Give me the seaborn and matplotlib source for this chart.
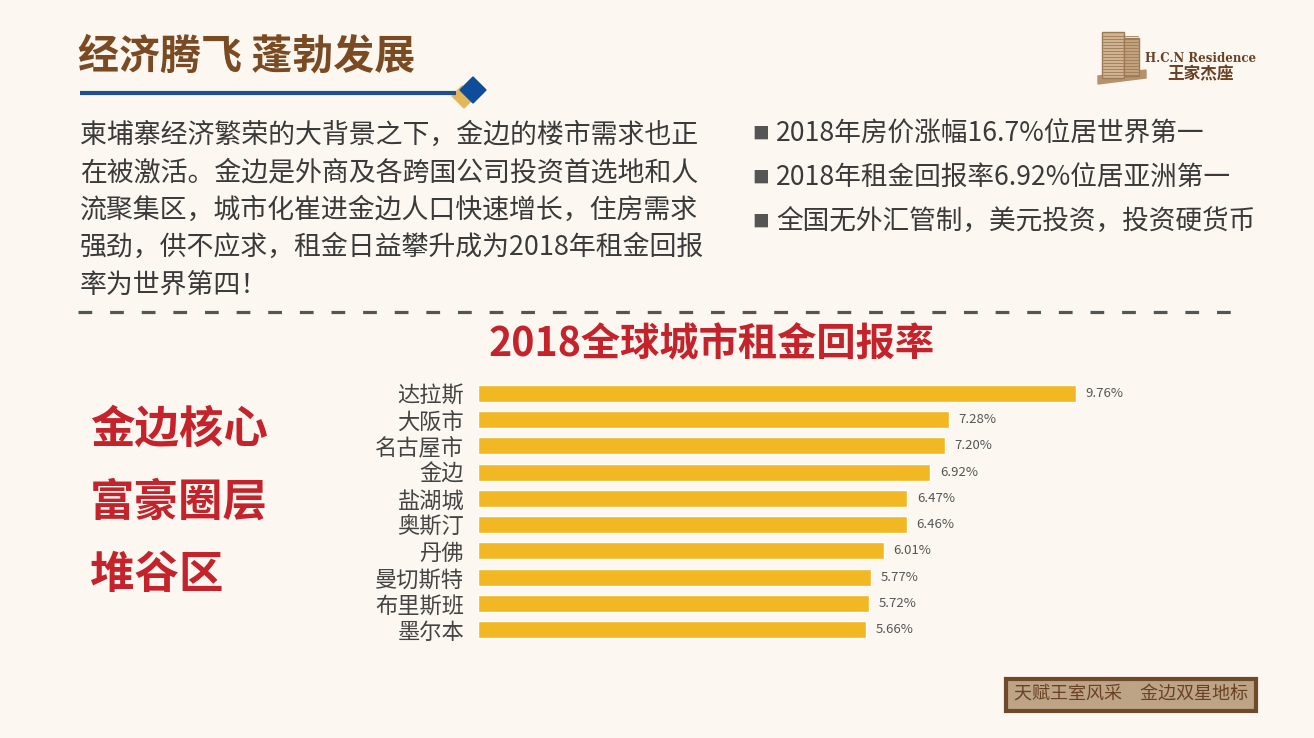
import matplotlib
matplotlib.use("Agg")
import matplotlib.pyplot as plt
from matplotlib.patches import Rectangle, Polygon
import seaborn as sns
import pandas as pd

# chart data
cities = ["达拉斯", "大阪市", "名古屋市", "金边", "盐湖城", "奥斯汀", "丹佛", "曼切斯特", "布里斯班", "墨尔本"]
rates = [9.76, 7.28, 7.20, 6.92, 6.47, 6.46, 6.01, 5.77, 5.72, 5.66]
rate_labels = ["9.76%", "7.28%", "7.20%", "6.92%", "6.47%", "6.46%", "6.01%", "5.77%", "5.72%", "5.66%"]

page_title = "经济腾飞 蓬勃发展"
chart_title = "2018全球城市租金回报率"
paragraph = ["柬埔寨经济繁荣的大背景之下，金边的楼市需求也正",
             "在被激活。金边是外商及各跨国公司投资首选地和人",
             "流聚集区，城市化崔进金边人口快速增长，住房需求",
             "强劲，供不应求，租金日益攀升成为2018年租金回报",
             "率为世界第四！"]
bullets = ["2018年房价涨幅16.7%位居世界第一",
           "2018年租金回报率6.92%位居亚洲第一",
           "全国无外汇管制，美元投资，投资硬货币"]
side_text = ["金边核心", "富豪圈层", "堆谷区"]
footer = "天赋王室风采　金边双星地标"

BG = "#FCF7F1"
RED = "#C4232B"
BROWN = "#7A4A22"
BAR = "#F2B824"

sns.set_theme(style="white")
plt.rcParams["font.family"] = ["Noto Sans CJK SC", "DejaVu Sans"]

W, H = 1314, 738
fig = plt.figure(figsize=(W / 100, H / 100), dpi=100, facecolor=BG)

# page overlay in pixel coordinates
pg = fig.add_axes([0, 0, 1, 1])
pg.set_xlim(0, W)
pg.set_ylim(H, 0)
pg.axis("off")
pg.set_facecolor(BG)

pg.text(78, 57, page_title, fontsize=29.5, fontweight="bold", color=BROWN, va="center", ha="left")
pg.plot([80, 456], [93, 93], color="#1F4E8F", lw=3, solid_capstyle="butt")
pg.add_patch(Polygon([[452, 96], [462, 86], [474, 98], [464, 108]], closed=True, color="#E2B65A"))
pg.add_patch(Polygon([[460, 90], [473, 77], [486, 90], [473, 103]], closed=True, color="#0F4C9A"))

for i, line in enumerate(paragraph):
    pg.text(80, 135 + i * 37.5, line, fontsize=19.4, color="#3A3A3A", va="center", ha="left")

for i, line in enumerate(bullets):
    pg.text(752, 134 + i * 44, "■", fontsize=12, color="#555555", va="center", ha="left")
    pg.text(776, 134 + i * 44, line, fontsize=19.2, color="#3A3A3A", va="center", ha="left")

pg.plot([78, 1240], [312, 312], color="#555555", lw=2.3, dashes=(4.3, 5.6))

pg.text(712, 345, chart_title, fontsize=28.3, fontweight="bold", color=RED, va="center", ha="center")

for i, line in enumerate(side_text):
    pg.text(90, 430 + i * 72.5, line, fontsize=32, fontweight="bold", color=RED, va="center", ha="left")

# footer box
pg.add_patch(Rectangle((1006, 679), 250, 32, facecolor="#BDA487", edgecolor="#6E4A2B", lw=3))
pg.text(1131, 695, footer, fontsize=13, color="#6A4223", va="center", ha="center")

# logo
pg.add_patch(Polygon([[1098, 76], [1146, 70], [1146, 78], [1098, 84]], closed=True, color="#B4926C"))
pg.add_patch(Rectangle((1102, 32), 22, 46, facecolor="#CFB392", edgecolor="#9C7A55", lw=1))
pg.add_patch(Rectangle((1124, 38), 15, 38, facecolor="#C2A27E", edgecolor="#9C7A55", lw=1))
for yy in range(36, 76, 3):
    pg.plot([1103, 1138], [yy, yy], color="#9C7A55", lw=0.6)
pg.text(1201, 59, "H.C.N Residence", fontsize=8.5, family="DejaVu Serif", fontweight="bold",
        color="#6A4223", va="center", ha="center")
pg.text(1201, 74, "王家杰座", fontsize=12, fontweight="bold", color="#6A4223", va="center", ha="center")

# bar chart
df = pd.DataFrame({"city": cities, "rate": rates})
ax = fig.add_axes([478 / W, (H - 643) / H, (1165 - 478) / W, 263 / H])
ax.set_facecolor("none")
sns.barplot(data=df, y="city", x="rate", color=BAR, saturation=1, width=0.65, ax=ax)
base = -1.91
ax.set_xlim(base, 11.5)
for p in ax.patches:
    w = p.get_width()
    p.set_x(base)
    p.set_width(w - base)
for i, lab in enumerate(rate_labels):
    ax.annotate(lab, (rates[i], i), xytext=(7, 0), textcoords="offset points",
                va="center", ha="left", fontsize=9.5, color="#555555")
ax.set_xlabel("")
ax.set_ylabel("")
ax.set_xticks([])
ax.tick_params(axis="y", length=0, pad=10, labelsize=16, labelcolor="#444444")
sns.despine(ax=ax, left=True, bottom=True)

fig.savefig("out.png", dpi=100, facecolor=BG)
